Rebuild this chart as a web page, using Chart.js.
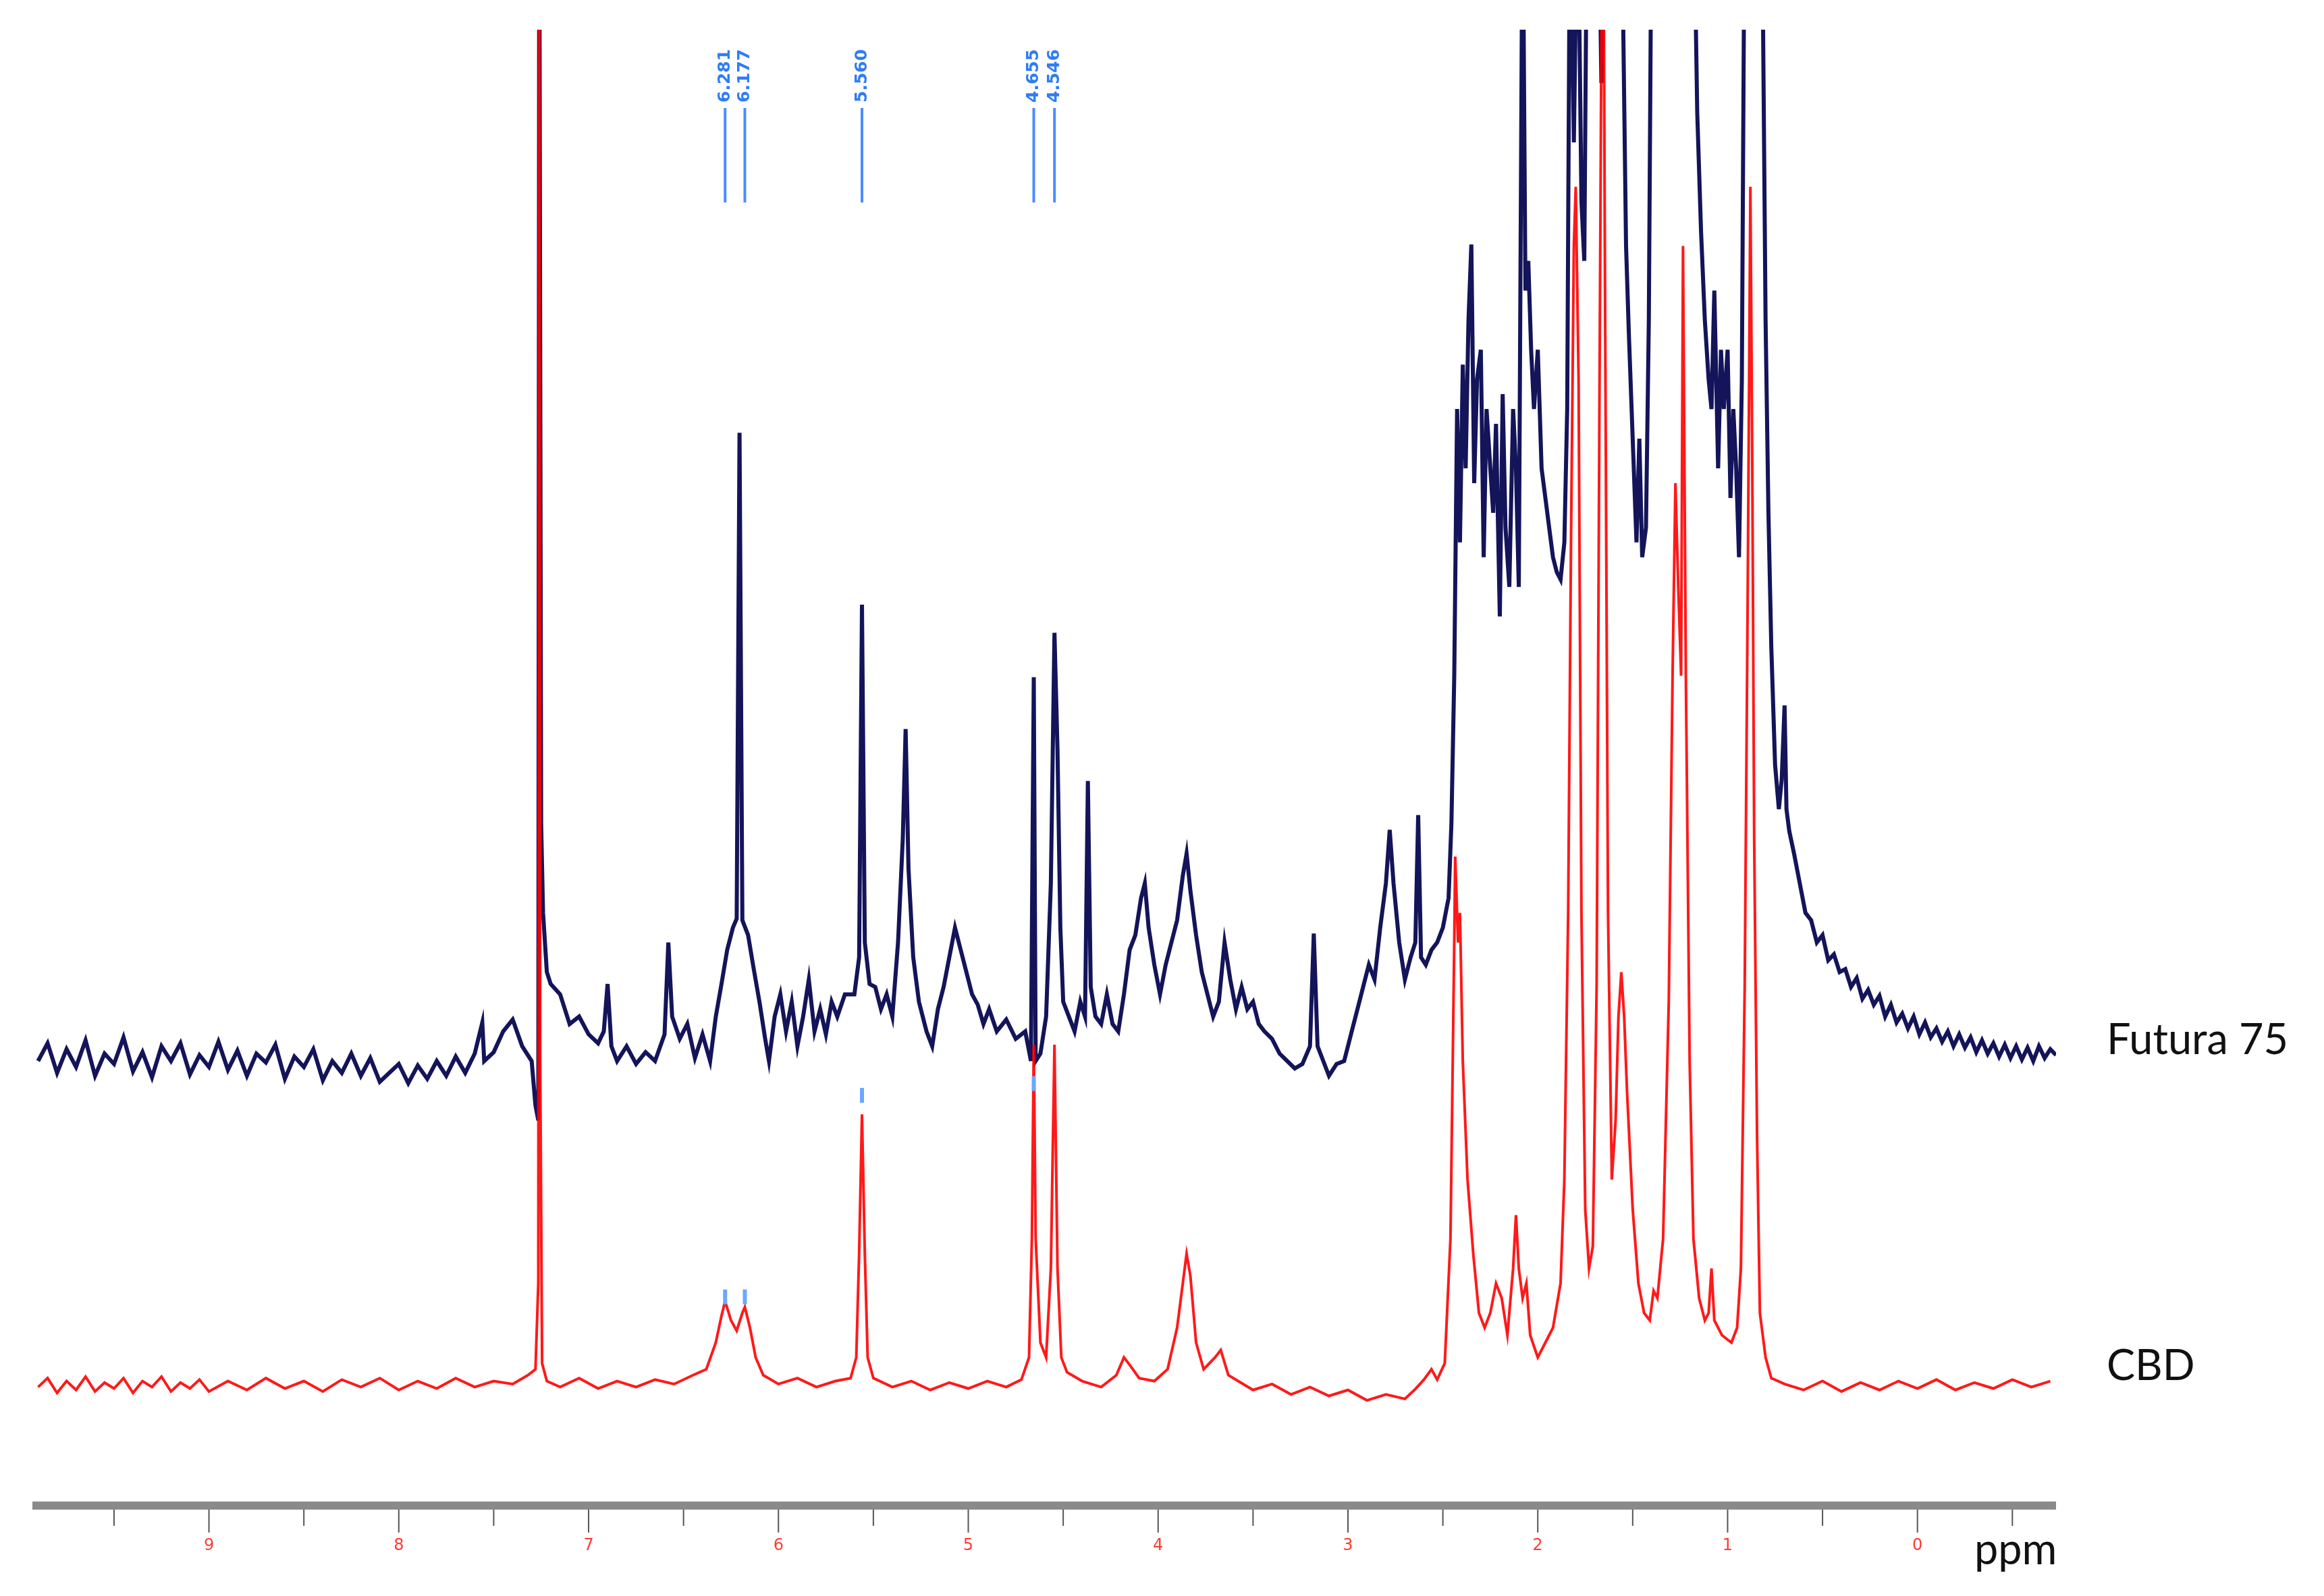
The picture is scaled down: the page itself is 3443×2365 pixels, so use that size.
<!DOCTYPE html>
<html><head><meta charset="utf-8">
<script src="https://cdn.jsdelivr.net/npm/chart.js@4/dist/chart.umd.min.js"></script>
<style>html,body{margin:0;padding:0;background:#fff}#c{display:block}</style>
</head><body>
<canvas id="c" width="3443" height="2365"></canvas>
<script>
const futuraPpm = [9.90,9.85,9.80,9.75,9.70,9.65,9.60,9.55,9.50,9.45,9.40,9.35,9.30,9.25,9.20,9.15,9.10,9.05,9.00,8.95,8.90,8.85,8.80,8.75,8.70,8.65,8.60,8.55,8.50,8.45,8.40,8.35,8.30,8.25,8.20,8.15,8.10,8.00,7.95,7.90,7.85,7.80,7.75,7.70,7.65,7.60,7.56,7.55,7.50,7.45,7.40,7.35,7.30,7.28,7.265,7.26,7.25,7.24,7.22,7.20,7.15,7.10,7.05,7.00,6.95,6.92,6.90,6.88,6.85,6.80,6.75,6.70,6.65,6.60,6.58,6.56,6.52,6.48,6.44,6.40,6.36,6.33,6.30,6.27,6.24,6.22,6.205,6.19,6.16,6.13,6.10,6.07,6.05,6.02,5.99,5.96,5.93,5.90,5.87,5.84,5.81,5.78,5.75,5.72,5.69,5.65,5.60,5.575,5.56,5.545,5.52,5.49,5.46,5.43,5.40,5.37,5.345,5.33,5.315,5.29,5.26,5.22,5.19,5.16,5.13,5.10,5.07,5.04,5.01,4.98,4.95,4.92,4.89,4.85,4.80,4.75,4.70,4.67,4.655,4.645,4.62,4.59,4.565,4.546,4.53,4.515,4.50,4.47,4.44,4.41,4.385,4.37,4.355,4.33,4.30,4.27,4.24,4.21,4.18,4.15,4.12,4.09,4.07,4.05,4.02,3.99,3.96,3.93,3.90,3.87,3.85,3.83,3.80,3.77,3.74,3.71,3.68,3.65,3.62,3.59,3.56,3.53,3.50,3.47,3.44,3.40,3.36,3.32,3.28,3.24,3.20,3.18,3.16,3.13,3.10,3.06,3.02,2.98,2.95,2.92,2.89,2.86,2.83,2.80,2.78,2.76,2.73,2.70,2.67,2.645,2.63,2.615,2.59,2.56,2.53,2.50,2.47,2.455,2.44,2.425,2.41,2.395,2.38,2.365,2.35,2.335,2.32,2.30,2.285,2.27,2.25,2.235,2.22,2.20,2.185,2.17,2.15,2.13,2.115,2.10,2.08,2.065,2.05,2.035,2.02,2.00,1.98,1.96,1.94,1.92,1.90,1.88,1.86,1.845,1.83,1.81,1.79,1.77,1.755,1.74,1.70,1.68,1.665,1.64,1.58,1.56,1.535,1.52,1.50,1.48,1.465,1.45,1.43,1.415,1.40,1.33,1.30,1.26,1.22,1.18,1.16,1.14,1.12,1.10,1.085,1.07,1.05,1.035,1.02,1.00,0.985,0.97,0.955,0.94,0.925,0.91,0.86,0.82,0.80,0.785,0.77,0.75,0.73,0.715,0.70,0.69,0.675,0.65,0.62,0.59,0.56,0.53,0.50,0.47,0.44,0.41,0.38,0.35,0.32,0.29,0.26,0.23,0.20,0.17,0.14,0.11,0.08,0.05,0.02,-0.01,-0.04,-0.07,-0.10,-0.13,-0.16,-0.19,-0.22,-0.25,-0.28,-0.31,-0.34,-0.37,-0.40,-0.43,-0.46,-0.49,-0.52,-0.55,-0.58,-0.61,-0.64,-0.67,-0.70,-0.73];
const futuraIntensity = [300,312,292,308,296,314,290,305,298,316,293,306,289,310,300,312,291,304,296,313,294,307,290,305,299,311,288,303,296,308,287,300,292,305,290,302,286,298,285,297,288,300,290,303,292,305,326,300,306,320,328,310,300,270,260,1100,460,400,360,352,345,325,330,318,312,320,352,310,300,310,298,306,300,318,380,330,315,325,302,318,300,330,352,375,390,396,724,395,385,362,340,315,300,330,345,320,340,310,330,355,320,335,318,340,330,345,345,370,608,380,352,350,335,345,330,380,450,524,430,370,340,320,310,335,350,370,390,375,360,345,338,325,335,320,328,315,320,300,559,300,305,330,420,589,510,390,340,330,320,340,330,489,350,330,325,345,325,320,345,375,385,410,420,390,365,345,365,380,395,425,440,415,385,360,345,330,340,380,355,335,350,335,340,325,320,315,305,300,295,298,310,386,310,300,290,298,300,320,335,350,365,355,390,420,456,420,380,355,370,380,466,370,365,375,380,390,410,460,560,740,650,770,700,800,851,690,760,780,640,740,700,670,730,600,750,660,620,740,700,620,1100,820,840,780,740,780,700,680,660,640,630,625,650,740,1100,920,1100,880,840,1100,1100,1100,960,1100,1100,1100,850,790,720,650,720,640,660,800,1100,1100,1100,1100,1100,1100,940,860,800,760,740,820,700,780,740,780,680,740,700,640,760,1100,1100,1100,800,670,580,500,470,490,540,470,455,440,420,400,395,380,385,368,372,360,362,350,356,342,348,338,344,330,338,326,332,322,330,318,326,316,322,313,320,310,318,309,316,306,314,305,312,303,311,302,310,301,309,300,310,302,308,304];
const cbdPpm = [9.90,9.85,9.80,9.75,9.70,9.65,9.60,9.55,9.50,9.45,9.40,9.35,9.30,9.25,9.20,9.15,9.10,9.05,9.00,8.90,8.80,8.70,8.60,8.50,8.40,8.30,8.20,8.10,8.00,7.90,7.80,7.70,7.60,7.50,7.40,7.32,7.28,7.265,7.26,7.255,7.245,7.22,7.15,7.05,6.95,6.85,6.75,6.65,6.55,6.45,6.38,6.33,6.30,6.281,6.25,6.22,6.19,6.177,6.15,6.12,6.08,6.0,5.9,5.8,5.7,5.62,5.59,5.575,5.56,5.545,5.53,5.50,5.4,5.3,5.2,5.1,5.0,4.9,4.8,4.72,4.68,4.665,4.655,4.645,4.62,4.59,4.565,4.546,4.53,4.51,4.48,4.4,4.3,4.22,4.18,4.15,4.10,4.02,3.95,3.90,3.87,3.85,3.83,3.80,3.76,3.70,3.67,3.63,3.5,3.4,3.3,3.2,3.1,3.0,2.9,2.8,2.7,2.65,2.6,2.56,2.53,2.49,2.46,2.44,2.435,2.42,2.41,2.395,2.37,2.34,2.31,2.28,2.25,2.22,2.19,2.16,2.13,2.115,2.10,2.08,2.06,2.04,2.00,1.96,1.92,1.88,1.86,1.84,1.825,1.81,1.80,1.785,1.77,1.75,1.73,1.71,1.69,1.675,1.665,1.655,1.645,1.63,1.61,1.59,1.575,1.56,1.545,1.53,1.50,1.47,1.44,1.41,1.39,1.37,1.34,1.31,1.29,1.275,1.26,1.245,1.235,1.22,1.20,1.18,1.15,1.12,1.10,1.085,1.07,1.03,0.98,0.95,0.93,0.91,0.895,0.88,0.87,0.86,0.845,0.83,0.80,0.77,0.7,0.6,0.5,0.4,0.3,0.2,0.1,0.0,-0.1,-0.2,-0.3,-0.4,-0.5,-0.6,-0.7];
const cbdIntensity = [80,86,76,84,78,87,77,83,79,86,76,84,80,87,77,83,79,85,77,84,78,86,79,84,77,85,80,86,78,84,79,86,80,84,82,88,92,150,1100,300,96,84,80,86,79,84,80,85,82,88,92,110,128,138,125,118,130,134,120,100,88,82,86,80,84,86,100,170,264,170,100,86,80,84,78,83,79,84,80,85,100,180,311,180,110,100,160,311,160,100,90,84,80,88,100,95,86,84,92,120,150,170,155,110,92,100,105,88,78,82,75,80,74,78,71,75,72,78,85,92,85,96,180,380,438,380,400,300,220,170,130,120,130,150,140,115,160,196,160,140,150,115,100,110,120,150,220,400,650,850,890,760,400,200,160,175,350,750,990,1100,800,400,220,260,330,360,330,280,200,150,130,125,145,140,180,340,560,690,620,560,850,560,300,180,140,125,130,160,125,115,110,120,160,350,600,890,700,450,250,130,100,86,82,78,84,77,83,78,84,79,85,78,83,79,85,80,84];
const tickValues = [10,9,8,7,6,5,4,3,2,1,0];
const peakLabels = ['6.281','6.177','5.560','4.655','4.546'];
const peakPpm = [6.281,6.177,5.560,4.655,4.546];
const seriesNames = ['Futura 75','CBD'];

const toXY = (xs, ys) => xs.map((x, i) => ({x, y: ys[i]}));

const L = 48, R = 3046, T = 44, B = 2231;
const deco = {
  id: 'deco',
  afterDraw(chart) {
    const ctx = chart.ctx, xs = chart.scales.x;
    ctx.save();
    ctx.fillStyle = '#8a8a8a';
    ctx.fillRect(L, B - 6, R - L, 12);
    ctx.strokeStyle = '#555';
    ctx.lineWidth = 2;
    for (let v = 9.5; v >= -0.5; v -= 0.5) {
      const x = xs.getPixelForValue(v);
      const major = Math.abs(v - Math.round(v)) < 1e-6;
      ctx.beginPath(); ctx.moveTo(x, B + 6); ctx.lineTo(x, B + (major ? 40 : 30)); ctx.stroke();
    }
    ctx.save();
    ctx.beginPath(); ctx.rect(L, B, R - L, 120); ctx.clip();
    ctx.fillStyle = '#ff3b30';
    ctx.font = '24px "DejaVu Sans"';
    ctx.textAlign = 'center'; ctx.textBaseline = 'middle';
    tickValues.forEach(v => ctx.fillText(String(v), xs.getPixelForValue(v), B + 60));
    ctx.restore();
    ctx.strokeStyle = '#4a8cff'; ctx.fillStyle = '#2f7cf6';
    ctx.lineWidth = 4;
    ctx.font = 'bold 25px "DejaVu Sans"';
    peakPpm.forEach((p, i) => {
      const x = xs.getPixelForValue(p);
      ctx.beginPath(); ctx.moveTo(x, 160); ctx.lineTo(x, 300); ctx.stroke();
      ctx.save(); ctx.translate(x, 152); ctx.rotate(-Math.PI / 2);
      ctx.textAlign = 'left'; ctx.textBaseline = 'middle';
      ctx.fillText(peakLabels[i], 0, 0); ctx.restore();
    });
    const ys = chart.scales.y;
    [[6.281, 134],[6.177, 134],[5.560, 270],[4.655, 278]].forEach(([p, v]) => {
      const x = xs.getPixelForValue(p), y = ys.getPixelForValue(v);
      ctx.fillStyle = '#6aa8ff'; ctx.fillRect(x - 3, y - 26, 6, 22);
    });
    ctx.fillStyle = '#111';
    ctx.font = '63px Lato, "Open Sans", sans-serif';
    ctx.textAlign = 'left'; ctx.textBaseline = 'middle';
    ctx.fillText(seriesNames[0], 3121, 1542);
    ctx.fillText(seriesNames[1], 3121, 2025);
    ctx.fillText('ppm', 2925, 2298);
    ctx.restore();
  }
};

new Chart(document.getElementById('c'), {
  type: 'line',
  data: { datasets: [
    { label: seriesNames[1], data: toXY(cbdPpm, cbdIntensity), borderColor: 'rgba(255,0,0,0.9)', borderWidth: 4, pointRadius: 0, tension: 0 },
    { label: seriesNames[0], data: toXY(futuraPpm, futuraIntensity), borderColor: '#14145a', borderWidth: 6, pointRadius: 0, tension: 0 }
  ]},
  options: {
    responsive: false, animation: false, devicePixelRatio: 1,
    layout: { padding: { left: L, right: 3443 - R, top: T, bottom: 2365 - B } },
    plugins: { legend: { display: false }, tooltip: { enabled: false } },
    scales: {
      x: { type: 'linear', reverse: true, min: -0.73, max: 9.93, display: false },
      y: { min: 0, max: 996, display: false }
    }
  },
  plugins: [deco]
});
</script>
</body></html>
